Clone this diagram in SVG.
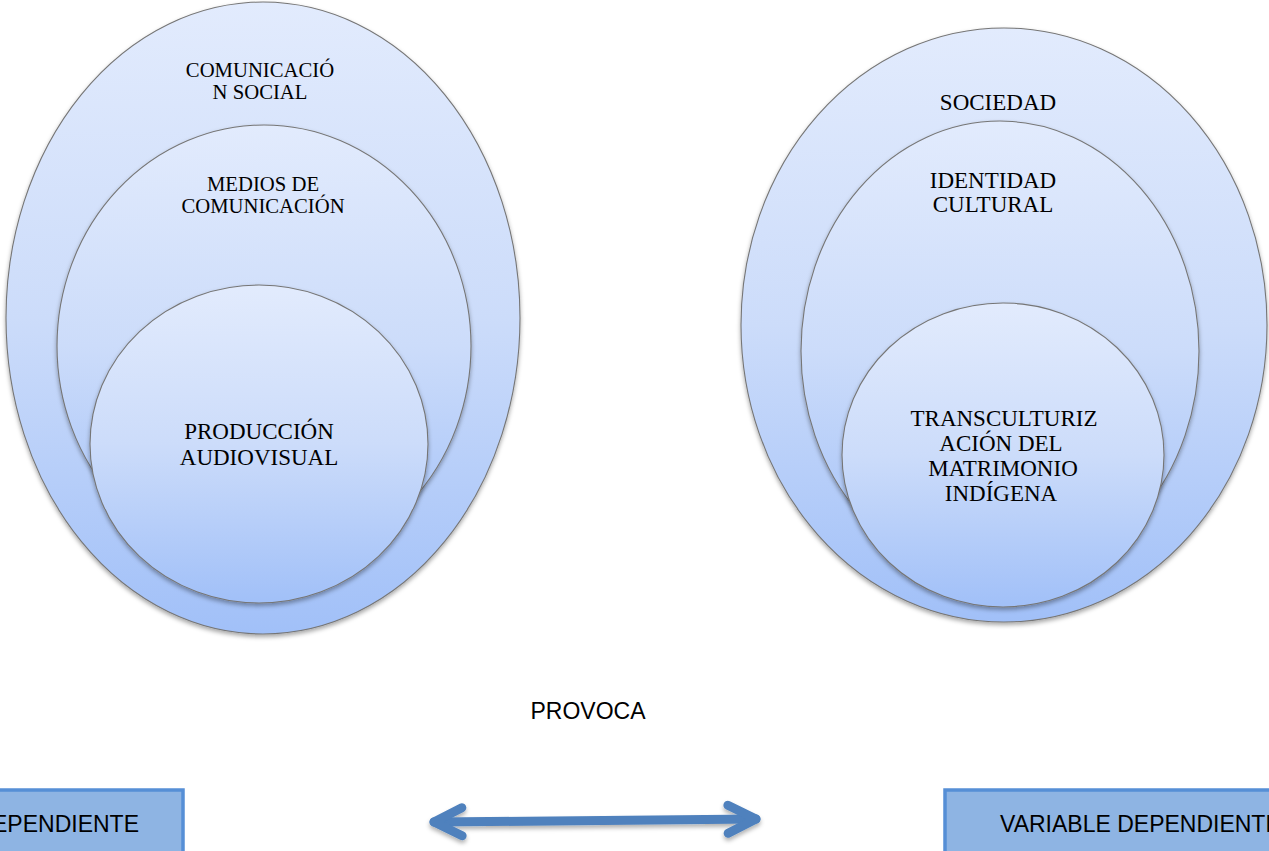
<svg xmlns="http://www.w3.org/2000/svg" width="1269" height="851" viewBox="0 0 1269 851">
<style>
.ell{stroke:#767676;stroke-width:1.1;filter:url(#sh)}
.lbl{font-family:"Liberation Serif","Times New Roman",serif;font-size:23px;fill:#000;text-anchor:middle}
.sm{font-size:20.7px}
.sans{font-family:"Liberation Sans",Arial,sans-serif;font-size:23px;fill:#000}
.box{fill:#8EB4E3;stroke:#568FD6;stroke-width:3.5}
.conn{fill:none;stroke:#4F81BD;stroke-width:9;stroke-linecap:round;stroke-linejoin:round}
</style>
<defs>
<linearGradient id="g" x1="0" y1="0" x2="0" y2="1">
<stop offset="0" stop-color="#E2EBFD"/>
<stop offset="0.5" stop-color="#CCDCFA"/>
<stop offset="1" stop-color="#A1C0F8"/>
</linearGradient>
<filter id="sh" x="-10%" y="-10%" width="120%" height="125%">
<feDropShadow dx="0" dy="2.5" stdDeviation="2" flood-color="#000" flood-opacity="0.35"/>
</filter>
<filter id="ash" filterUnits="userSpaceOnUse" x="400" y="780" width="400" height="71">
<feDropShadow dx="0" dy="3" stdDeviation="2" flood-color="#000" flood-opacity="0.3"/>
</filter>
<marker id="chev" markerUnits="userSpaceOnUse" markerWidth="80" markerHeight="80" refX="0" refY="0" orient="auto-start-reverse" overflow="visible">
<path d="M -28 -14 L 0 0 L -28 14" fill="none" stroke="#4F81BD" stroke-width="9" stroke-linecap="round" stroke-linejoin="round"/>
</marker>
</defs>
<rect width="1269" height="851" fill="#fff"/>

<g id="left-outer">
<ellipse class="ell" cx="263" cy="318" rx="257" ry="316" fill="url(#g)"/>
<text class="lbl sm"><tspan x="260" y="77">COMUNICACIÓ</tspan><tspan x="260" y="99">N SOCIAL</tspan></text>
</g>
<g id="left-middle">
<ellipse class="ell" cx="264" cy="346" rx="207" ry="221" fill="url(#g)"/>
<text class="lbl sm"><tspan x="263" y="191">MEDIOS DE</tspan><tspan x="263" y="213">COMUNICACIÓN</tspan></text>
</g>
<g id="left-inner">
<ellipse class="ell" cx="259" cy="444" rx="169" ry="159" fill="url(#g)"/>
<text class="lbl"><tspan x="259" y="439">PRODUCCIÓN</tspan><tspan x="259" y="465">AUDIOVISUAL</tspan></text>
</g>

<g id="right-outer">
<ellipse class="ell" cx="1004" cy="325" rx="263" ry="297" fill="url(#g)"/>
<text class="lbl"><tspan x="998" y="110">SOCIEDAD</tspan></text>
</g>
<g id="right-middle">
<ellipse class="ell" cx="1000" cy="351" rx="199" ry="230" fill="url(#g)"/>
<text class="lbl"><tspan x="993" y="188">IDENTIDAD</tspan><tspan x="993" y="212">CULTURAL</tspan></text>
</g>
<g id="right-inner">
<ellipse class="ell" cx="1003" cy="455" rx="161" ry="152" fill="url(#g)"/>
<text class="lbl"><tspan x="1004" y="426">TRANSCULTURIZ</tspan><tspan x="1001" y="451">ACIÓN DEL</tspan><tspan x="1003" y="476">MATRIMONIO</tspan><tspan x="1001" y="501">INDÍGENA</tspan></text>
</g>

<g id="provoca">
<text class="sans" x="588" y="719" text-anchor="middle">PROVOCA</text>
</g>

<g id="var-independiente">
<rect class="box" x="-220" y="790" width="403" height="80"/>
<text class="sans" x="139" y="832" text-anchor="end">VARIABLE INDEPENDIENTE</text>
</g>
<g id="var-dependiente">
<rect class="box" x="945" y="790" width="400" height="80"/>
<text class="sans" x="1000" y="832">VARIABLE DEPENDIENTE</text>
</g>

<g id="connectors" filter="url(#ash)">
<path class="conn" d="M 434 822 L 756 819" marker-start="url(#chev)" marker-end="url(#chev)"/>
</g>
</svg>
